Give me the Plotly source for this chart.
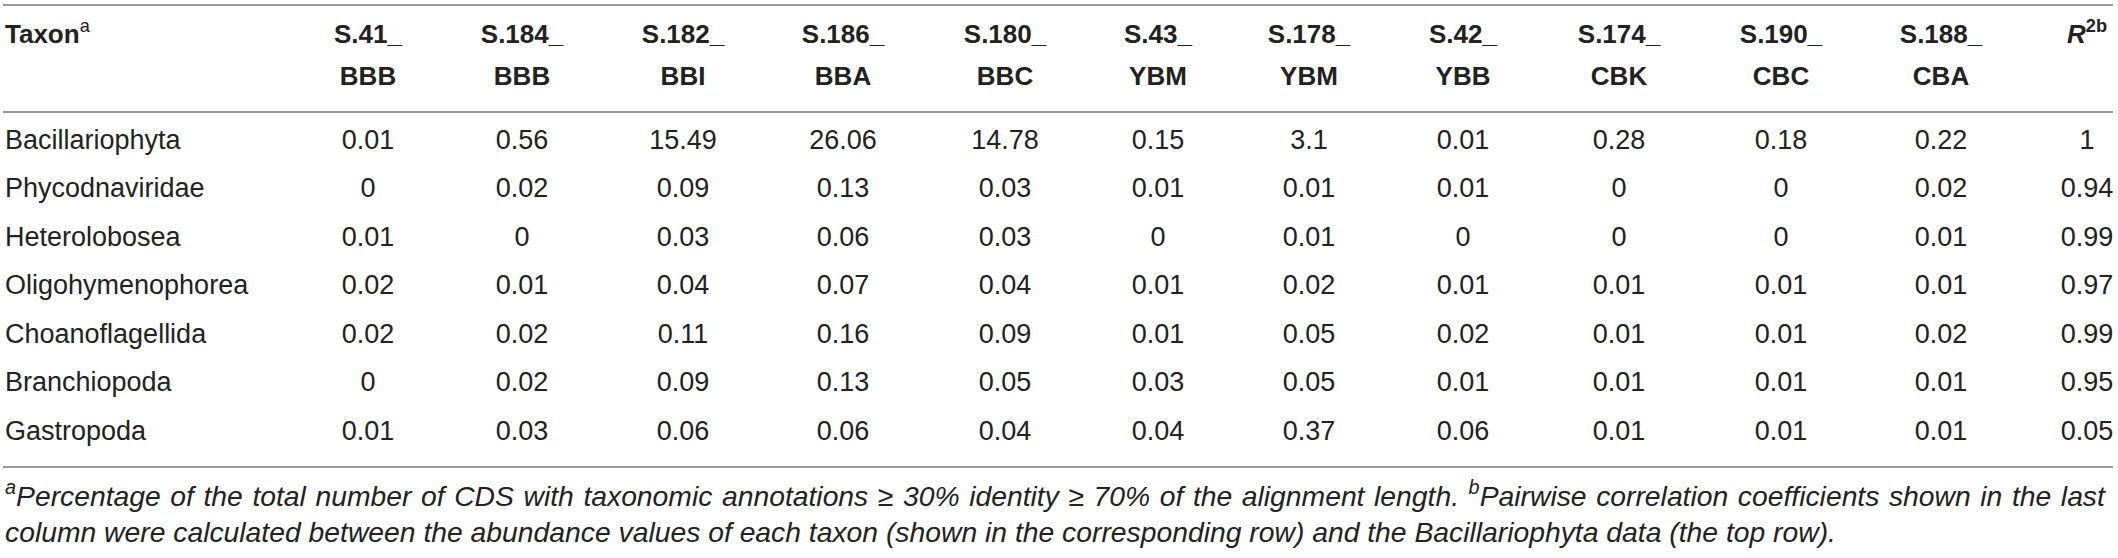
import plotly.graph_objects as go

# ---- data ----
taxa = ["Bacillariophyta", "Phycodnaviridae", "Heterolobosea", "Oligohymenophorea",
        "Choanoflagellida", "Branchiopoda", "Gastropoda"]
sample_ids = ["S.41_", "S.184_", "S.182_", "S.186_", "S.180_", "S.43_",
              "S.178_", "S.42_", "S.174_", "S.190_", "S.188_"]
sample_sites = ["BBB", "BBB", "BBI", "BBA", "BBC", "YBM", "YBM", "YBB", "CBK", "CBC", "CBA"]

S41_BBB = ["0.01", "0", "0.01", "0.02", "0.02", "0", "0.01"]
S184_BBB = ["0.56", "0.02", "0", "0.01", "0.02", "0.02", "0.03"]
S182_BBI = ["15.49", "0.09", "0.03", "0.04", "0.11", "0.09", "0.06"]
S186_BBA = ["26.06", "0.13", "0.06", "0.07", "0.16", "0.13", "0.06"]
S180_BBC = ["14.78", "0.03", "0.03", "0.04", "0.09", "0.05", "0.04"]
S43_YBM = ["0.15", "0.01", "0", "0.01", "0.01", "0.03", "0.04"]
S178_YBM = ["3.1", "0.01", "0.01", "0.02", "0.05", "0.05", "0.37"]
S42_YBB = ["0.01", "0.01", "0", "0.01", "0.02", "0.01", "0.06"]
S174_CBK = ["0.28", "0", "0", "0.01", "0.01", "0.01", "0.01"]
S190_CBC = ["0.18", "0", "0", "0.01", "0.01", "0.01", "0.01"]
S188_CBA = ["0.22", "0.02", "0.01", "0.01", "0.02", "0.01", "0.01"]
R2 = ["1", "0.94", "0.99", "0.97", "0.99", "0.95", "0.05"]

columns = [S41_BBB, S184_BBB, S182_BBI, S186_BBA, S180_BBC, S43_YBM,
           S178_YBM, S42_YBB, S174_CBK, S190_CBC, S188_CBA, R2]

footnote_1 = ("<sup>a</sup>Percentage of the total number of CDS with taxonomic annotations "
              "\u2265 30% identity \u2265 70% of the alignment length. "
              "<sup>b</sup>Pairwise correlation coefficients shown in the last")
footnote_2 = ("column were calculated between the abundance values of each taxon "
              "(shown in the corresponding row) and the Bacillariophyta data (the top row).")

# ---- layout constants ----
W, H = 2118, 558
COL_X = [368, 522, 683, 843, 1005, 1158, 1309, 1463, 1619, 1781, 1941, 2087]
TAXON_X = 5
ROW_Y0, ROW_DY = 142, 48.5
HEAD_Y1, HEAD_Y2 = 36, 78
LINE_X0, LINE_X1 = 3, 2113
LINES_Y = [5, 112, 467]
FOOT_Y = [499, 535]
FOOT_RIGHT = 2106  # first footnote line is justified to this edge

FONT = "Liberation Sans, Arial, Helvetica, sans-serif"
TXT = "#222222"
BODY = 27
HEAD = 26
FOOT = 28.3

row_y = [ROW_Y0 + i * ROW_DY for i in range(len(taxa))]

fig = go.Figure()

def text_trace(xs, ys, texts, pos, size):
    fig.add_trace(go.Scatter(
        x=xs, y=ys, text=texts, mode="text", textposition=pos,
        textfont=dict(family=FONT, size=size, color=TXT),
        hoverinfo="skip", showlegend=False, cliponaxis=False))

# taxon names
text_trace([TAXON_X] * len(taxa), row_y, taxa, "middle right", BODY)

# value columns
for cx, vals in zip(COL_X, columns):
    text_trace([cx] * len(vals), row_y, vals, "middle center", BODY)

# header
head1 = ["<b>%s</b>" % s for s in sample_ids] + ["<b><i>R</i><sup>2b</sup></b>"]
head2 = ["<b>%s</b>" % s for s in sample_sites]
text_trace(COL_X, [HEAD_Y1] * len(head1), head1, "middle center", HEAD)
text_trace(COL_X[:len(head2)], [HEAD_Y2] * len(head2), head2, "middle center", HEAD)
text_trace([TAXON_X], [HEAD_Y1], ["<b>Taxon</b><sup>a</sup>"], "middle right", HEAD)

# footnotes
text_trace([TAXON_X, TAXON_X], FOOT_Y,
           ["<i>%s</i>" % footnote_1, "<i>%s</i>" % footnote_2], "middle right", FOOT)

for ly in LINES_Y:
    fig.add_shape(type="line", x0=LINE_X0, x1=LINE_X1, y0=ly, y1=ly,
                  xref="x", yref="y", line=dict(color="#9a9a9a", width=2))

fig.update_layout(
    width=W, height=H, margin=dict(l=0, r=0, t=0, b=0),
    paper_bgcolor="white", plot_bgcolor="white",
    xaxis=dict(range=[0, W], visible=False, fixedrange=True),
    yaxis=dict(range=[H, 0], visible=False, fixedrange=True),
)

justify_js = """
document.body.style.margin='0px';
document.body.style.overflow='hidden';
var gd = document.getElementById('{plot_id}');
var ts = gd.querySelectorAll('text');
ts.forEach(function(t){
  var s = t.textContent;
  if (s.indexOf('Percentage') >= 0 && s.indexOf('coefficients') >= 0) {
    var n = (s.match(/ /g) || []).length;
    var r = t.getBoundingClientRect();
    var extra = %d - r.right;
    if (n > 0 && extra > 0) { t.style.wordSpacing = (extra / n) + 'px'; }
  }
});
""" % FOOT_RIGHT

fig.write_html("out.html", config={"displayModeBar": False}, post_script=justify_js)
